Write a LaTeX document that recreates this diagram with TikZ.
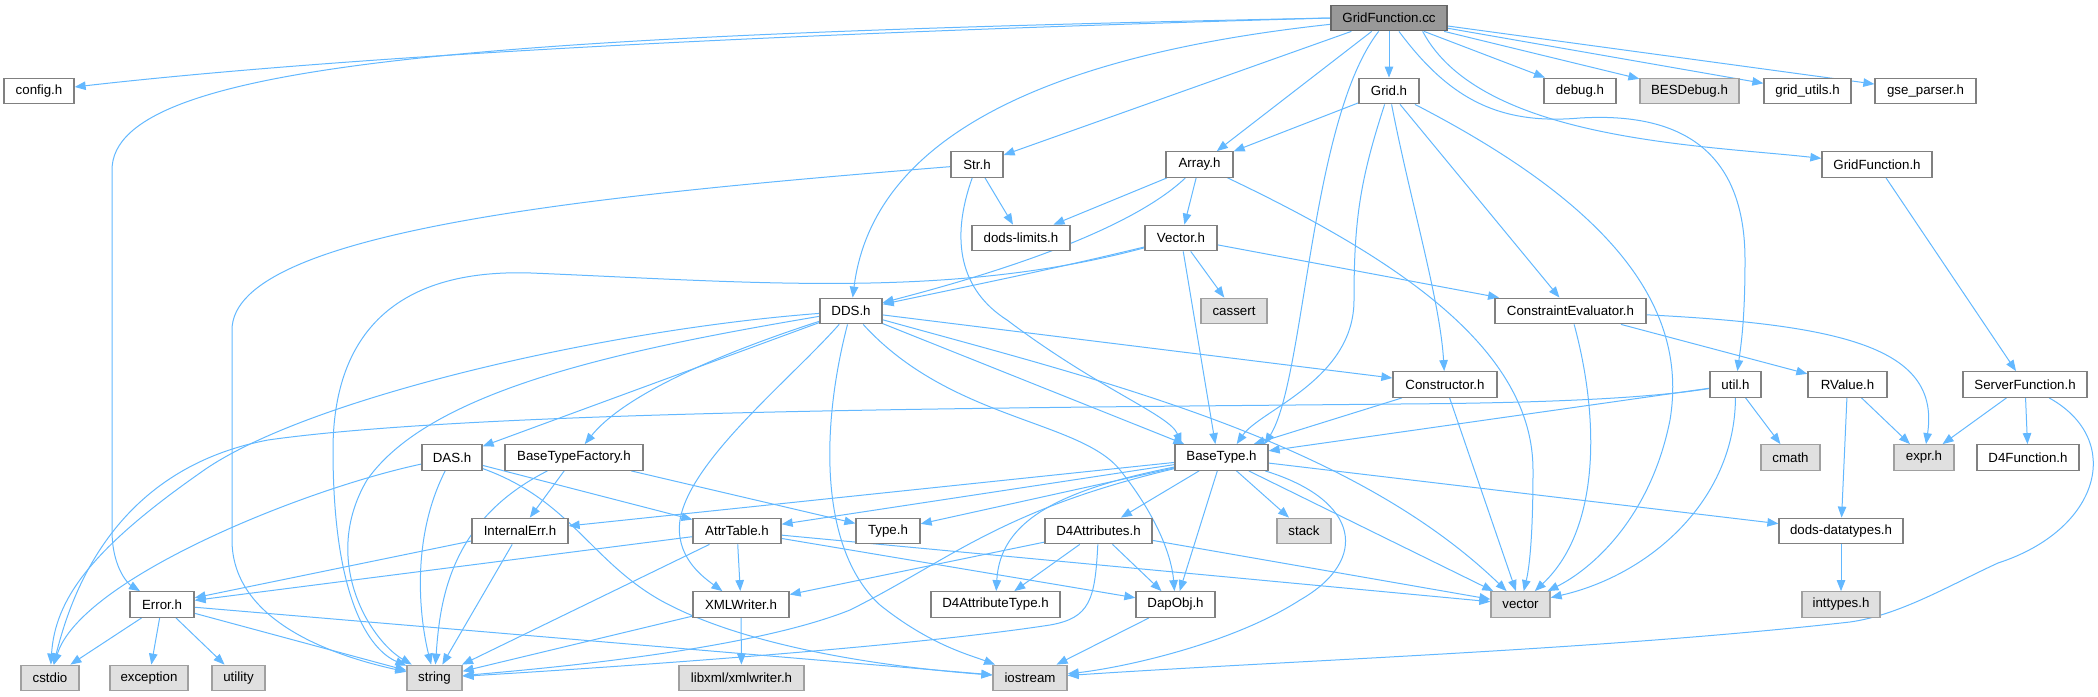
\documentclass[tikz,border=0pt]{standalone}
\usepackage{fontspec}
\setmainfont{Liberation Sans}
\usetikzlibrary{arrows.meta}
\definecolor{edgec}{HTML}{63B8FF}
\definecolor{boxc}{HTML}{808080}
\definecolor{grayfill}{HTML}{E0E0E0}
\definecolor{grayedge}{HTML}{A0A0A0}
\definecolor{rootfill}{HTML}{999999}
\definecolor{rootedge}{HTML}{666666}
\pgfdeclarelayer{bg}
\pgfsetlayers{bg,main}
\begin{document}
\begin{tikzpicture}[x=1pt,y=-1pt,
  hdr/.style={draw=boxc, fill=white, line width=1.3pt, rectangle, inner sep=0pt,
    minimum height=25.5pt, font=\fontsize{13.3}{15}\selectfont},
  sys/.style={hdr, draw=grayedge, fill=grayfill},
  root/.style={hdr, draw=rootedge, fill=rootfill},
  dep/.style={draw=edgec, line width=1pt, -{Triangle[length=11pt,width=8.5pt]}},
]
\useasboundingbox (0,0) rectangle (2098,696);
% nodes
\node[root, minimum width=116pt] (gfcc) at (1389,18) {GridFunction.cc};
\node[hdr, minimum width=70pt] (config) at (39,91) {config.h};
\node[hdr, minimum width=60pt] (gridh) at (1389,91) {Grid.h};
\node[hdr, minimum width=72pt] (debug) at (1580,91) {debug.h};
\node[sys, minimum width=99pt] (besdebug) at (1689.5,91) {BESDebug.h};
\node[hdr, minimum width=87pt] (gridutils) at (1807.5,91) {grid\_utils.h};
\node[hdr, minimum width=101pt] (gse) at (1925.5,91) {gse\_parser.h};
\node[hdr, minimum width=52pt] (strh) at (977,164.5) {Str.h};
\node[hdr, minimum width=67pt] (array) at (1199.5,164.5) {Array.h};
\node[hdr, minimum width=110pt] (gfh) at (1877,164.5) {GridFunction.h};
\node[hdr, minimum width=98pt] (limits) at (1021,238) {dods-limits.h};
\node[hdr, minimum width=72pt] (vectorh) at (1181,238) {Vector.h};
\node[hdr, minimum width=62pt] (dds) at (851,311) {DDS.h};
\node[sys, minimum width=66pt] (cassert) at (1234,311) {cassert};
\node[hdr, minimum width=151pt] (ce) at (1570.5,311) {ConstraintEvaluator.h};
\node[hdr, minimum width=104pt] (constructor) at (1445,384.5) {Constructor.h};
\node[hdr, minimum width=51pt] (util) at (1735.5,384.5) {util.h};
\node[hdr, minimum width=79pt] (rvalue) at (1847.5,384.5) {RValue.h};
\node[hdr, minimum width=124pt] (sf) at (2025,384.5) {ServerFunction.h};
\node[hdr, minimum width=60pt] (das) at (452,457.5) {DAS.h};
\node[hdr, minimum width=138pt] (btf) at (574,457.5) {BaseTypeFactory.h};
\node[hdr, minimum width=93pt] (basetype) at (1221.5,457.5) {BaseType.h};
\node[sys, minimum width=59pt] (cmath) at (1790.5,457.5) {cmath};
\node[sys, minimum width=60pt] (expr) at (1924,457.5) {expr.h};
\node[hdr, minimum width=102pt] (d4func) at (2028,457.5) {D4Function.h};
\node[hdr, minimum width=96pt] (internalerr) at (520,531) {InternalErr.h};
\node[hdr, minimum width=88pt] (attrtable) at (737,531) {AttrTable.h};
\node[hdr, minimum width=64pt] (typeh) at (888,531) {Type.h};
\node[hdr, minimum width=107pt] (d4attr) at (1098.5,531) {D4Attributes.h};
\node[sys, minimum width=54pt] (stack) at (1304,531) {stack};
\node[hdr, minimum width=124pt] (ddt) at (1841,531) {dods-datatypes.h};
\node[hdr, minimum width=64pt] (error) at (162,604.5) {Error.h};
\node[hdr, minimum width=96pt] (xmlwriter) at (741,604.5) {XMLWriter.h};
\node[hdr, minimum width=129pt] (d4at) at (995.5,604.5) {D4AttributeType.h};
\node[hdr, minimum width=79pt] (dapobj) at (1175.5,604.5) {DapObj.h};
\node[sys, minimum width=59pt] (vector) at (1520.5,604.5) {vector};
\node[sys, minimum width=78pt] (inttypes) at (1841,604.5) {inttypes.h};
\node[sys, minimum width=58pt] (cstdio) at (50,678) {cstdio};
\node[sys, minimum width=78pt] (exception) at (149,678) {exception};
\node[sys, minimum width=53pt] (utility) at (238.5,678) {utility};
\node[sys, minimum width=55pt] (string) at (434.5,678) {string};
\node[sys, minimum width=125pt] (libxml) at (741.5,678) {libxml/xmlwriter.h};
\node[sys, minimum width=74pt] (iostream) at (1030,678) {iostream};
% edges
\begin{pgfonlayer}{bg}
% GridFunction.cc
\draw[dep] (gfcc.west) .. controls (900,30) and (400,50) .. (config);
\draw[dep] (gfcc.west) .. controls (500,35) and (112,60) .. (112,170) -- (112,530) .. controls (112,570) and (130,585) .. (error);
\draw[dep] (gfcc) .. controls (1000,60) and (870,160) .. (dds);
\draw[dep] (gfcc) -- (strh);
\draw[dep] (gfcc) -- (array);
\draw[dep] (gfcc) .. controls (1310,120) and (1305,380) .. ([xshift=-4pt]basetype.north east);
\draw[dep] (gfcc) -- (gridh);
\draw[dep] (gfcc) .. controls (1450,100) and (1500,125) .. (1580,118) .. controls (1680,112) and (1745,150) .. (1745,260) .. controls (1745,320) and (1741,345) .. (util);
\draw[dep] (gfcc) -- (debug);
\draw[dep] (gfcc) -- (besdebug);
\draw[dep] (gfcc) -- (gridutils);
\draw[dep] (gfcc) -- (gse);
\draw[dep] ([xshift=-25pt]gfcc.south east) .. controls (1480,140) and (1700,145) .. (gfh);
% Grid.h
\draw[dep] (gridh) -- (array);
\draw[dep] (gridh) .. controls (1360,180) and (1354,220) .. (1354,300) .. controls (1354,380) and (1260,410) .. ([xshift=-32pt]basetype.north east);
\draw[dep] (gridh) .. controls (1410,200) and (1440,300) .. (constructor);
\draw[dep] (gridh) -- (ce);
\draw[dep] (gridh) .. controls (1600,200) and (1690,300) .. (1670,420) .. controls (1650,520) and (1590,570) .. (vector);
% Str.h
\draw[dep] (strh) .. controls (600,195) and (232,230) .. (232,330) -- (232,540) .. controls (232,620) and (330,655) .. (string);
\draw[dep] (strh) -- (limits);
\draw[dep] (strh) .. controls (950,240) and (960,290) .. (1007,320) .. controls (1100,390) and (1170,415) .. ([xshift=7pt]basetype.north west);
% Array.h
\draw[dep] (array) -- (limits);
\draw[dep] (array) -- (vectorh);
\draw[dep] (array) .. controls (1120,240) and (950,285) .. (dds);
\draw[dep] (array) .. controls (1400,260) and (1533,350) .. (1533,470) .. controls (1533,530) and (1530,565) .. (vector);
% Vector.h
\draw[dep] (vectorh) .. controls (1050,270) and (950,290) .. (dds);
\draw[dep] (vectorh) .. controls (950,300) and (750,282) .. (531,273) .. controls (380,268) and (333,350) .. (333,450) .. controls (333,600) and (370,650) .. (string);
\draw[dep] (vectorh) -- (cassert);
\draw[dep] (vectorh) -- ([xshift=41pt]basetype.north west);
\draw[dep] (vectorh) -- (ce);
% DDS.h
\draw[dep] (dds) .. controls (600,330) and (300,400) .. (200,473) .. controls (90,550) and (55,600) .. (cstdio);
\draw[dep] (dds) .. controls (620,350) and (430,390) .. (367,480) .. controls (320,560) and (370,640) .. (string);
\draw[dep] (dds) -- (das);
\draw[dep] (dds) .. controls (700,360) and (620,400) .. (btf);
\draw[dep] (dds) .. controls (790,380) and (690,460) .. (680,520) .. controls (675,555) and (700,575) .. (xmlwriter);
\draw[dep] (dds) .. controls (820,430) and (820,550) .. (880,605) .. controls (930,645) and (970,655) .. (iostream);
\draw[dep] (dds) .. controls (950,420) and (1080,420) .. (1120,470) .. controls (1160,520) and (1172,560) .. (dapobj);
\draw[dep] (dds) -- ([xshift=10pt]basetype.north west);
\draw[dep] (dds) .. controls (1100,380) and (1350,440) .. (vector);
\draw[dep] (dds) -- (constructor);
% Constructor.h
\draw[dep] (constructor) -- ([xshift=-15pt]basetype.north east);
\draw[dep] (constructor) -- (vector);
% ConstraintEvaluator.h
\draw[dep] (ce) .. controls (1600,420) and (1600,530) .. (vector);
\draw[dep] (ce) -- (rvalue);
\draw[dep] (ce) .. controls (1850,325) and (1940,350) .. (expr);
% RValue.h
\draw[dep] (rvalue) -- (expr);
\draw[dep] (rvalue) -- (ddt);
% util.h
\draw[dep] ([yshift=-4pt]util.west) .. controls (1650,398) and (1550,403) .. (1400,404) .. controls (1000,408) and (480,410) .. (268,440) .. controls (110,470) and (70,600) .. (cstdio);
\draw[dep] (util) -- (basetype);
\draw[dep] (util) -- (cmath);
\draw[dep] (util) .. controls (1735,500) and (1650,575) .. (vector);
% GridFunction.h / ServerFunction.h
\draw[dep] (gfh) -- (sf);
\draw[dep] (sf) -- (expr);
\draw[dep] (sf) -- (d4func);
\draw[dep] (sf) .. controls (2125,440) and (2100,530) .. (1998,563) .. controls (1950,585) and (1900,615) .. (1850,622) .. controls (1600,650) and (1300,660) .. (iostream);
% BaseType.h
\draw[dep] (basetype) -- (internalerr);
\draw[dep] (basetype) -- (attrtable);
\draw[dep] (basetype) -- (typeh);
\draw[dep] (basetype) -- (d4attr);
\draw[dep] (basetype) .. controls (1060,490) and (1000,520) .. (d4at);
\draw[dep] (basetype) -- (dapobj);
\draw[dep] (basetype) -- (stack);
\draw[dep] (basetype) .. controls (1360,500) and (1370,560) .. (1300,600) .. controls (1230,645) and (1120,668) .. (iostream);
\draw[dep] (basetype) -- (vector);
\draw[dep] (basetype) -- (ddt);
\draw[dep] (basetype) .. controls (1000,510) and (950,560) .. (850,610) .. controls (750,650) and (550,668) .. (string);
% D4Attributes.h
\draw[dep] (d4attr) -- (xmlwriter);
\draw[dep] (d4attr) -- (d4at);
\draw[dep] (d4attr) -- (dapobj);
\draw[dep] (d4attr) -- (vector);
\draw[dep] (d4attr) .. controls (1095,600) and (1090,618) .. (1050,625) .. controls (900,648) and (600,668) .. (string);
% AttrTable.h
\draw[dep] (attrtable) -- (error);
\draw[dep] (attrtable) -- (string);
\draw[dep] (attrtable) -- (xmlwriter);
\draw[dep] (attrtable) -- (dapobj);
\draw[dep] (attrtable) -- (vector);
% DAS.h
\draw[dep] (das) .. controls (300,490) and (80,580) .. (cstdio);
\draw[dep] (das) .. controls (410,540) and (420,620) .. (string);
\draw[dep] (das) -- (attrtable);
\draw[dep] (das) .. controls (570,500) and (590,560) .. (660,600) .. controls (750,650) and (900,668) .. (iostream);
% BaseTypeFactory.h
\draw[dep] (btf) .. controls (450,520) and (440,600) .. (string);
\draw[dep] (btf) -- (internalerr);
\draw[dep] (btf) -- (typeh);
% InternalErr.h
\draw[dep] (internalerr) -- (error);
\draw[dep] (internalerr) -- (string);
% Error.h
\draw[dep] (error) -- (cstdio);
\draw[dep] (error) -- (exception);
\draw[dep] (error) -- (utility);
\draw[dep] (error) -- (string);
\draw[dep] (error) -- (iostream);
% XMLWriter.h, DapObj.h, dods-datatypes.h
\draw[dep] (xmlwriter) -- (libxml);
\draw[dep] (xmlwriter) -- (string);
\draw[dep] (dapobj) -- (iostream);
\draw[dep] (ddt) -- (inttypes);
\end{pgfonlayer}
\end{tikzpicture}
\end{document}
